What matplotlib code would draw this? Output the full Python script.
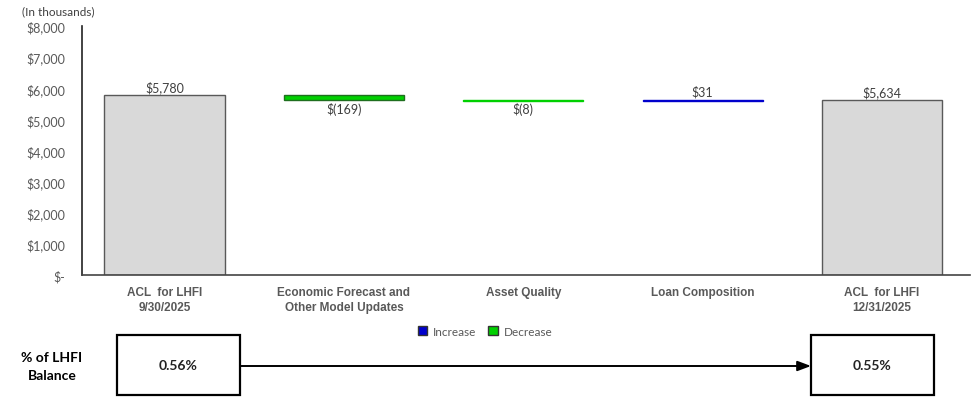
import matplotlib
matplotlib.use("Agg")
import matplotlib.pyplot as plt
import matplotlib.ticker as mticker
from matplotlib.patches import Patch, Rectangle
import numpy as np

# ---- data ----
categories = ["ACL  for LHFI\n9/30/2025", "Economic Forecast and\nOther Model Updates",
              "Asset Quality", "Loan Composition", "ACL  for LHFI\n12/31/2025"]
start_val = 5780
changes = [-169, -8, 31]
end_val = 5634
pct_labels = ["0.56%", "0.55%"]
yticks = [0, 1000, 2000, 3000, 4000, 5000, 6000, 7000, 8000]

GRAY = "#D9D9D9"
GREEN = "#00D000"
BLUE = "#0000CC"
TXT = "#595959"
NUMFONT = ["Lato", "DejaVu Sans"]
CATFONT = ["Liberation Sans", "DejaVu Sans"]

fig = plt.figure(figsize=(9.79, 4.10), dpi=100)
ax = fig.add_axes([82 / 979, 134 / 410, 888 / 979, 249 / 410])

# waterfall geometry
running = start_val + np.concatenate([[0], np.cumsum(changes)])
heights = [start_val] + [abs(c) for c in changes] + [end_val]
bottoms = [0] + [min(running[i], running[i + 1]) for i in range(len(changes))] + [0]
colors = [GRAY] + [GREEN if c < 0 else BLUE for c in changes] + [GRAY]
edges = ["#595959"] + [("#1F6F1F" if abs(c) > 50 else col)
                       for c, col in zip(changes, colors[1:-1])] + ["#595959"]

x = np.arange(len(categories))
ax.bar(x, heights, bottom=bottoms, width=0.67, color=colors,
       edgecolor=edges, linewidth=1.0)

# value labels
def money(v):
    return f"${v:,.0f}" if v >= 0 else f"$({abs(v):,.0f})"

vals = [start_val] + changes + [end_val]
for i, v in enumerate(vals):
    if v >= 0:
        ax.text(i, bottoms[i] + heights[i] + 60, money(v), ha="center", va="bottom",
                fontsize=9, color="#404040", family=NUMFONT)
    else:
        ax.text(i, bottoms[i] - 40, money(v), ha="center", va="top",
                fontsize=9, color="#404040", family=NUMFONT)

ax.set_xlim(-0.46, len(categories) - 0.51)
ax.set_ylim(0, 8000)
ax.set_yticks(yticks)
ax.yaxis.set_major_formatter(mticker.FuncFormatter(
    lambda v, _: "$-" if v == 0 else f"${v:,.0f}"))
ax.set_xticks(x)
ax.set_xticklabels(categories, fontsize=8.5, fontweight="bold", color=TXT,
                   family=CATFONT, linespacing=1.3)
for lab in ax.get_yticklabels():
    lab.set_family(NUMFONT)
    lab.set_fontsize(9)
    lab.set_color(TXT)
ax.tick_params(axis="both", length=0)
ax.tick_params(axis="y", pad=12)
ax.tick_params(axis="x", pad=8)
for s in ["top", "right"]:
    ax.spines[s].set_visible(False)
ax.spines["left"].set_color("#222222")
ax.spines["bottom"].set_color("#444444")
ax.spines["left"].set_linewidth(1.2)
ax.spines["bottom"].set_linewidth(1.2)

fig.text(22 / 979, 1 - 12 / 410, "(In thousands)", fontsize=8.5, color="#404040",
         family=NUMFONT, va="center", ha="left")

# legend
handles = [Patch(facecolor=BLUE, edgecolor="#333333", label="Increase"),
           Patch(facecolor=GREEN, edgecolor="#333333", label="Decrease")]
leg = fig.legend(handles=handles, loc="center", bbox_to_anchor=(485 / 979, 1 - 332 / 410),
                 ncol=2, frameon=False, handlelength=0.8, handleheight=0.8,
                 handletextpad=0.5, columnspacing=1.0, prop={"family": NUMFONT, "size": 8.5})
for t in leg.get_texts():
    t.set_color(TXT)

# bottom % of balance section (pixel coordinates)
ov = fig.add_axes([0, 0, 1, 1])
ov.set_xlim(0, 979)
ov.set_ylim(410, 0)
ov.axis("off")
ov.patch.set_alpha(0)

ov.text(52, 367, "% of LHFI\nBalance", ha="center", va="center", fontsize=10,
        fontweight="bold", family=NUMFONT, linespacing=1.6)
for bx, lab in zip([117, 811], pct_labels):
    ov.add_patch(Rectangle((bx, 336), 123, 60, facecolor="white",
                           edgecolor="black", linewidth=1.6))
    ov.text(bx + 61.5, 366, lab, ha="center", va="center", fontsize=10,
            fontweight="bold", family=NUMFONT, color="#222222")
ov.annotate("", xy=(811, 367), xytext=(240, 367),
            arrowprops=dict(arrowstyle="-|>,head_length=0.8,head_width=0.3",
                            color="black", lw=1.4, shrinkA=0, shrinkB=0))

fig.savefig("out.png", dpi=100)
